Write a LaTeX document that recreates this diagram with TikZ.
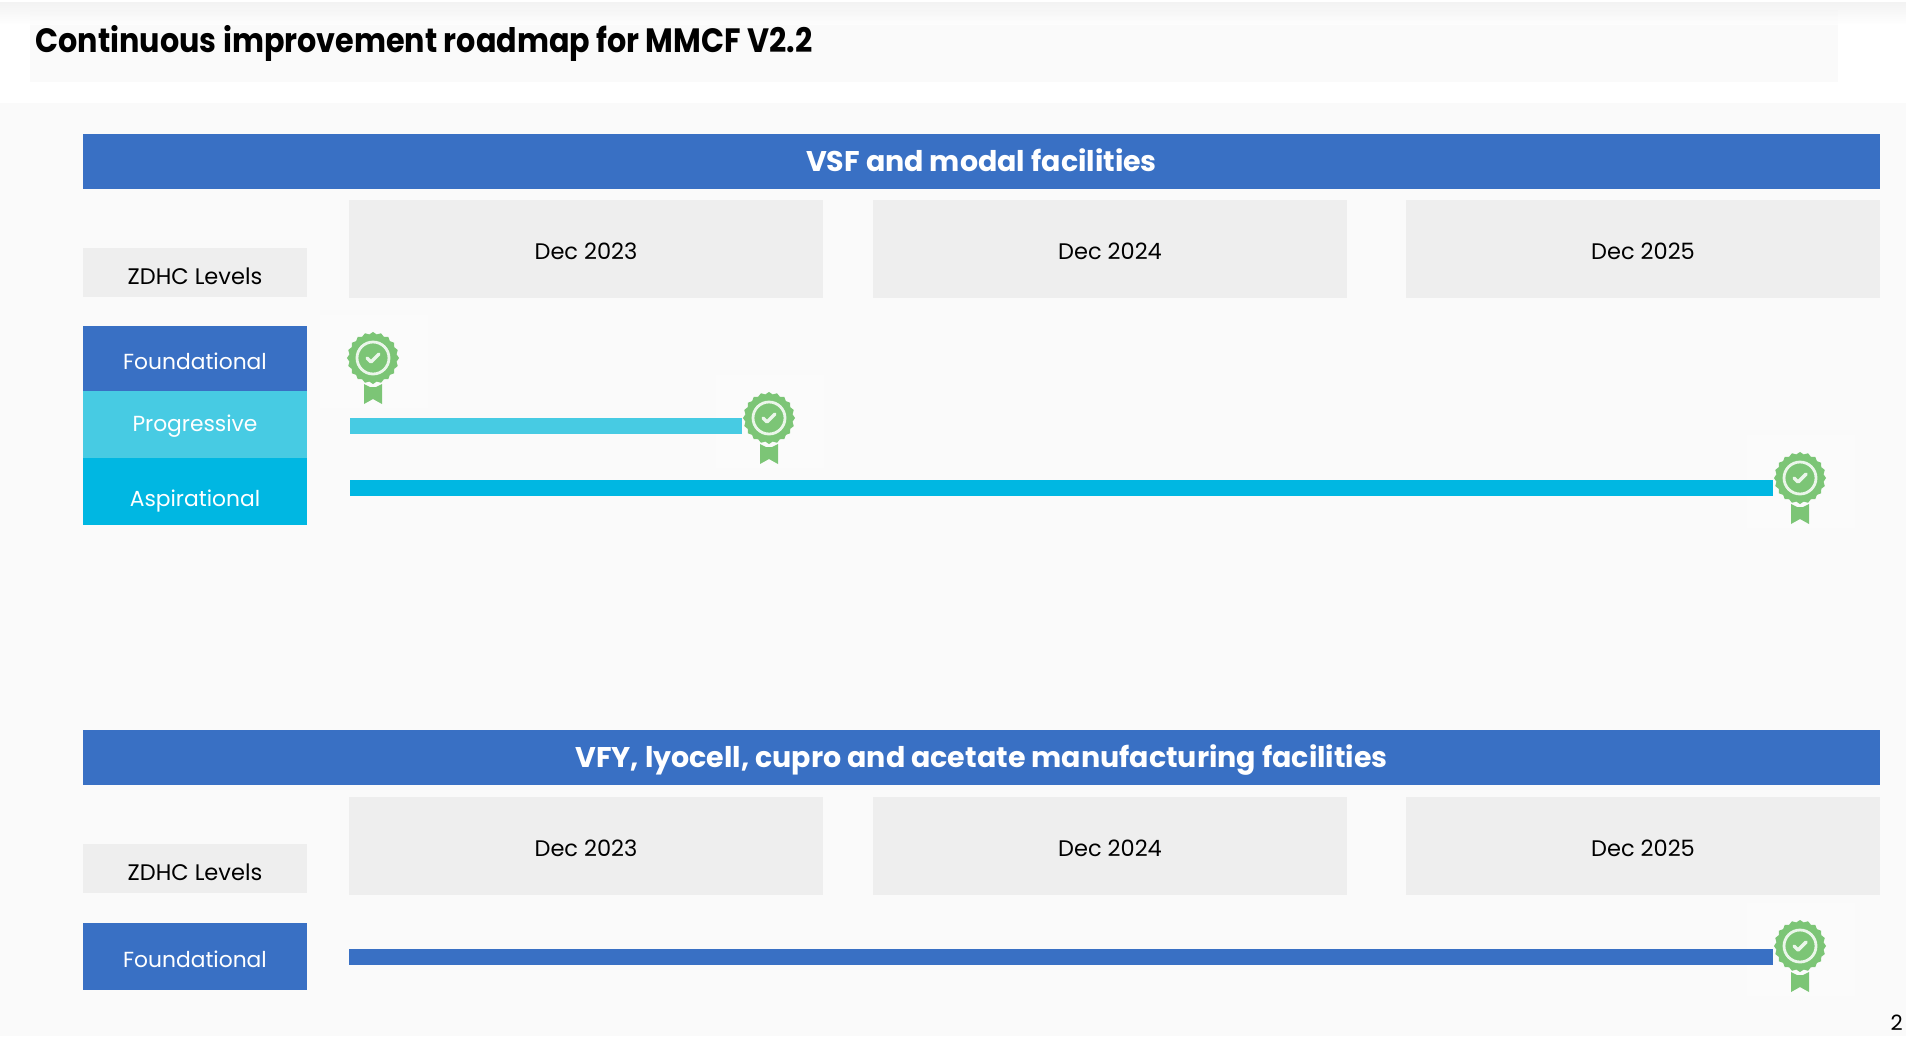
\documentclass[tikz,border=0pt]{standalone}
\usepackage{fontspec}
\setmainfont{Poppins}
\usetikzlibrary{shapes.geometric}

\definecolor{barblue}{HTML}{3970C4}
\definecolor{barlight}{HTML}{47CBE3}
\definecolor{barcyan}{HTML}{00B7E2}
\definecolor{cellgray}{HTML}{EEEEEE}
\definecolor{pagegray}{HTML}{FAFAFA}
\definecolor{sealgreen}{HTML}{7CC576}

\tikzset{
    box/.style={anchor=north west, inner sep=0pt, outer sep=0pt},
    banner/.style={box, fill=barblue, text=white, minimum width=1797*0.01cm, minimum height=55*0.01cm, text height=0.20cm, text depth=0pt, font=\fontsize{8.1}{10}\selectfont\bfseries},
    yearbox/.style={box, fill=cellgray, text=black, minimum width=474*0.01cm, minimum height=98*0.01cm, text height=0.20cm, text depth=0pt, font=\fontsize{6.4}{8}\selectfont},
    zdhcbox/.style={box, fill=cellgray, text=black, minimum width=224*0.01cm, minimum height=49*0.01cm, text height=0.23cm, text depth=0pt, font=\fontsize{6.4}{8}\selectfont},
    levelbox/.style={box, text=white, minimum width=224*0.01cm, text depth=0pt, font=\fontsize{6.2}{8}\selectfont},
    timebar/.style={line width=0.16cm},
    seal/.style={star, star points=20, star point ratio=1.09, fill=sealgreen, inner sep=0pt, minimum size=0.52cm},
    pics/badge/.style={code={
        \fill[pagegray!75!white] (-53,-43) rectangle (55,50);
        \fill[sealgreen] (-9,26) -- (-3,29) -- (3,29) -- (9,26) -- (9,46) -- (0,41) -- (-9,46) -- cycle;
        \node[seal] (-seal) at (0,0) {};
        \draw[white!85!sealgreen, line width=0.028cm] (0,0) circle (16);
        \draw[white!85!sealgreen, line width=0.035cm, line cap=round, line join=round] (-6,0) -- (-2,4) -- (6,-4);
    }},
}

\begin{document}
\begin{tikzpicture}[x=0.01cm,y=-0.01cm]
    \useasboundingbox (0,0) rectangle (1906,1036);

    % page
    \fill[white] (0,0) rectangle (1906,1036);
    \fill[pagegray] (0,103) rectangle (1906,1036);
    \fill[pagegray] (30,10) rectangle (1838,82);
    \shade[top color=cellgray, bottom color=white, opacity=0.7] (0,2) rectangle (1906,24);

    \node[anchor=west, inner sep=0pt, font=\fontsize{9.6}{12}\selectfont\bfseries\addfontfeatures{FakeStretch=0.895}] (title) at (35,43) {Continuous improvement roadmap for MMCF V2.2};

    % first block
    \node[banner] (vsf) at (83,134) {VSF and modal facilities};
    \node[yearbox] (a2023) at (349,200) {Dec 2023};
    \node[yearbox] (a2024) at (873,200) {Dec 2024};
    \node[yearbox] (a2025) at (1406,200) {Dec 2025};
    \node[zdhcbox] (alevels) at (83,248) {ZDHC Levels};
    \node[levelbox, fill=barblue, minimum height=65*0.01cm, text height=0.21cm] (afound) at (83,326) {Foundational};
    \node[levelbox, fill=barlight, minimum height=67*0.01cm, text height=0.14cm] (aprog) at (83,391) {Progressive};
    \node[levelbox, fill=barcyan, minimum height=67*0.01cm, text height=0.29cm] (aasp) at (83,458) {Aspirational};

    \pic (bfound) at (373,358) {badge};
    \pic (bprog) at (769,418) {badge};
    \pic (basp) at (1800,478) {badge};

    \coordinate (sprog) at (350,426);
    \coordinate (sasp) at (350,488);
    \draw[timebar, barlight] (sprog) -- (sprog -| bprog-seal.west);
    \draw[timebar, barcyan] (sasp) -- (sasp -| basp-seal.west);

    % second block
    \node[banner] (vfy) at (83,730) {VFY, lyocell, cupro and acetate manufacturing facilities};
    \node[yearbox] (c2023) at (349,797) {Dec 2023};
    \node[yearbox] (c2024) at (873,797) {Dec 2024};
    \node[yearbox] (c2025) at (1406,797) {Dec 2025};
    \node[zdhcbox] (clevels) at (83,844) {ZDHC Levels};
    \node[levelbox, fill=barblue, minimum height=67*0.01cm, text height=0.21cm] (cfound) at (83,923) {Foundational};

    \pic (dfound) at (1800,946) {badge};

    \coordinate (sfound) at (349,957);
    \draw[timebar, barblue] (sfound) -- (sfound -| dfound-seal.west);

    \node[anchor=north west, inner sep=0pt, font=\fontsize{6}{8}\selectfont] (pagenum) at (1890,1014) {2};
\end{tikzpicture}
\end{document}
